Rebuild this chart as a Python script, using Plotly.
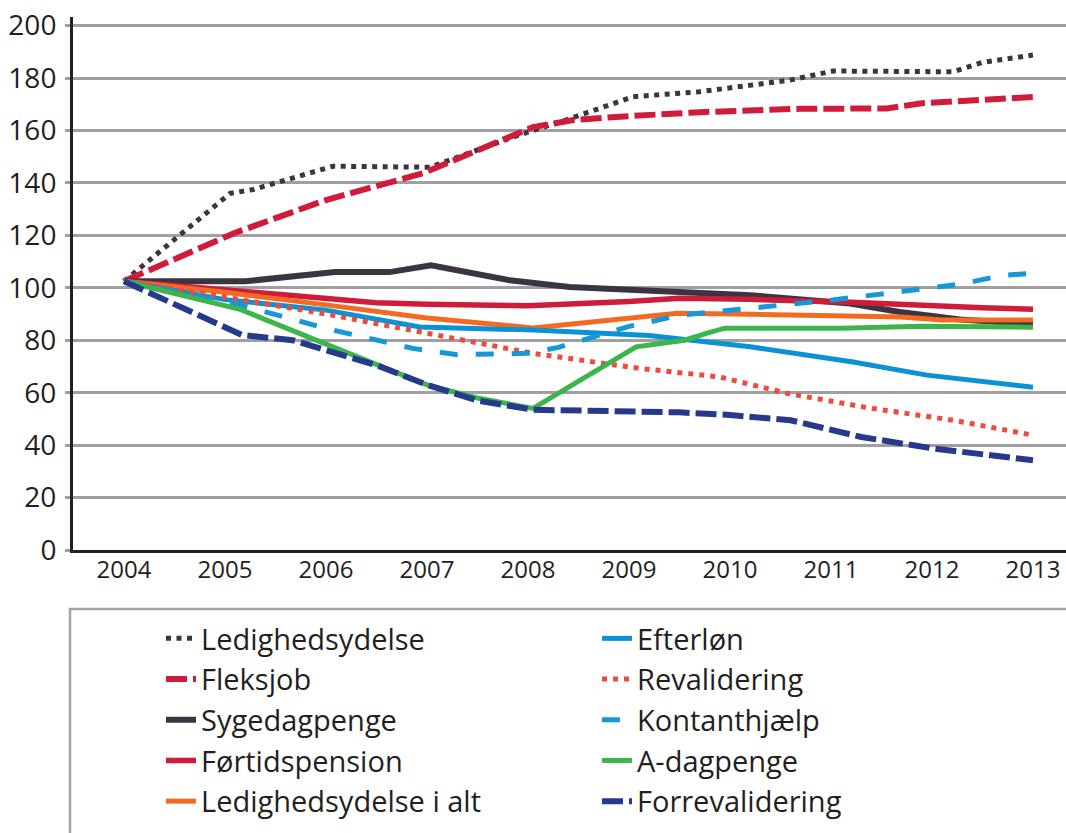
import plotly.graph_objects as go

# ---- data (fractional years, index values) ----
ledighedsydelse_x = [2004.0, 2005.05, 2005.28, 2006.07, 2007.03, 2007.85, 2008.45, 2009.04, 2009.7, 2010.59, 2011.02, 2012.21, 2012.5, 2013.0]
ledighedsydelse_y = [102.5, 136.0, 137.5, 146.4, 146.0, 157.5, 165.0, 172.9, 174.8, 179.2, 182.7, 182.4, 186.0, 188.8]

fleksjob_x = [2004.0, 2005.1, 2006.0, 2006.96, 2008.05, 2008.45, 2009.0, 2009.7, 2010.7, 2011.55, 2011.9, 2013.0]
fleksjob_y = [102.5, 121.0, 133.5, 143.7, 161.3, 164.0, 165.5, 167.0, 168.3, 168.4, 170.4, 172.8]

sygedagpenge_x = [2004.0, 2005.2, 2006.09, 2006.63, 2007.04, 2007.82, 2008.41, 2009.24, 2010.2, 2011.19, 2011.68, 2012.28, 2013.0]
sygedagpenge_y = [102.5, 102.5, 106.0, 106.0, 108.6, 102.9, 100.3, 98.7, 97.2, 94.0, 90.8, 87.9, 86.1]

fortidspension_x = [2004.0, 2005.0, 2006.0, 2006.5, 2007.0, 2008.0, 2009.0, 2009.5, 2010.2, 2011.2, 2012.5, 2013.0]
fortidspension_y = [102.5, 99.3, 96.0, 94.3, 93.7, 93.2, 94.8, 96.0, 95.6, 94.5, 92.4, 91.8]

ledighed_ialt_x = [2004.0, 2005.0, 2006.0, 2007.0, 2008.05, 2009.0, 2009.48, 2010.2, 2011.7, 2012.1, 2013.0]
ledighed_ialt_y = [102.5, 98.3, 93.5, 88.5, 84.7, 88.2, 90.3, 89.9, 88.9, 87.7, 87.7]

efterlon_x = [2004.0, 2005.0, 2006.0, 2006.93, 2008.05, 2009.2, 2010.2, 2010.79, 2011.22, 2011.95, 2012.77, 2013.0]
efterlon_y = [102.5, 95.5, 91.5, 85.1, 83.9, 81.8, 77.5, 74.3, 71.7, 66.7, 62.9, 62.1]

revalidering_x = [2004.0, 2005.0, 2006.0, 2006.93, 2008.05, 2009.1, 2009.9, 2010.56, 2011.39, 2012.21, 2013.0]
revalidering_y = [102.5, 96.5, 90.0, 83.2, 75.0, 69.3, 66.0, 59.8, 54.1, 49.5, 43.8]

kontanthjaelp_x = [2004.0, 2005.1, 2006.0, 2006.86, 2007.3, 2008.0, 2008.3, 2009.0, 2009.5, 2010.2, 2011.0, 2011.95, 2012.3, 2012.7, 2013.0]
kontanthjaelp_y = [102.5, 94.0, 84.5, 76.9, 74.5, 75.0, 77.3, 85.3, 89.5, 92.0, 95.3, 99.8, 101.5, 104.8, 105.5]

adagpenge_x = [2004.0, 2005.15, 2006.0, 2007.0, 2007.5, 2008.05, 2009.07, 2009.55, 2009.8, 2009.95, 2011.1, 2011.9, 2013.0]
adagpenge_y = [102.5, 91.8, 78.5, 63.0, 58.0, 54.0, 77.5, 80.0, 83.0, 84.6, 84.6, 85.3, 85.0]

forrevalidering_x = [2004.0, 2005.17, 2005.67, 2006.5, 2007.0, 2007.5, 2008.05, 2009.5, 2010.0, 2010.6, 2011.3, 2012.0, 2013.0]
forrevalidering_y = [102.5, 82.0, 80.0, 70.5, 63.0, 57.0, 53.5, 52.5, 51.5, 49.5, 43.1, 38.8, 34.2]

year_ticks = [2004, 2005, 2006, 2007, 2008, 2009, 2010, 2011, 2012, 2013]
y_ticks = [0, 20, 40, 60, 80, 100, 120, 140, 160, 180, 200]

DARK = "#3b3441"
CRIMSON = "#cf1c3a"
ORANGE = "#f36b21"
BLUE = "#0b92d5"
LBLUE = "#1698d8"
REDDOT = "#ef4b3d"
GREEN = "#3cb54a"
NAVY = "#27398d"

series = [
    ("Ledighedsydelse", ledighedsydelse_x, ledighedsydelse_y, DARK, 5, "5px,5.5px", "legend"),
    ("Fleksjob", fleksjob_x, fleksjob_y, CRIMSON, 6, "21px,6px", "legend"),
    ("Sygedagpenge", sygedagpenge_x, sygedagpenge_y, DARK, 6, "solid", "legend"),
    ("Førtidspension", fortidspension_x, fortidspension_y, CRIMSON, 5.5, "solid", "legend"),
    ("Ledighedsydelse i alt", ledighed_ialt_x, ledighed_ialt_y, ORANGE, 5, "solid", "legend"),
    ("Efterløn", efterlon_x, efterlon_y, BLUE, 5, "solid", "legend2"),
    ("Revalidering", revalidering_x, revalidering_y, REDDOT, 5, "5px,6px", "legend2"),
    ("Kontanthjælp", kontanthjaelp_x, kontanthjaelp_y, LBLUE, 5, "18px,18px", "legend2"),
    ("A-dagpenge", adagpenge_x, adagpenge_y, GREEN, 5, "solid", "legend2"),
    ("Forrevalidering", forrevalidering_x, forrevalidering_y, NAVY, 6, "21px,6px", "legend2"),
]

fig = go.Figure()
for name, xs, ys, color, width, dash, leg in series:
    fig.add_trace(go.Scatter(
        x=xs, y=ys, mode="lines", name=name,
        line=dict(color=color, width=width, dash=dash),
        legend=leg,
    ))

FONT = "Open Sans"
W, H = 1066, 833
plot_top, plot_bottom, plot_left = 17, 550, 73
ph = plot_bottom - plot_top
pw = W - plot_left

def py(pix):  # pix in reference-image coordinates
    return 1 - (pix - plot_top) / ph

def px(pix):
    return (pix - plot_left) / pw

legend_common = dict(
    font=dict(family=FONT, size=29, color="#231f20"),
    bgcolor="rgba(0,0,0,0)", borderwidth=0,
    orientation="v", xanchor="left", yanchor="top",
    traceorder="normal",
)

fig.update_layout(
    width=W, height=H,
    margin=dict(l=plot_left, r=0, t=plot_top, b=H - plot_bottom, autoexpand=False),
    paper_bgcolor="white", plot_bgcolor="white",
    font=dict(family=FONT, color="#231f20"),
    showlegend=True,
    legend=dict(x=px(161), y=py(613), **legend_common),
    legend2=dict(x=px(597), y=py(613), **legend_common),
    shapes=[dict(
        type="rect", xref="paper", yref="paper",
        x0=px(70), x1=px(1080), y0=py(609), y1=py(850),
        line=dict(color="#a3a3a3", width=2.5), fillcolor="rgba(0,0,0,0)",
        layer="below",
    )],
)

fig.update_xaxes(
    range=[2003.495, 2013.327], tickvals=year_ticks, ticktext=[str(v) for v in year_ticks],
    showgrid=False, zeroline=False, showline=True, linecolor="#231f20", linewidth=3,
    ticks="", ticklabelstandoff=-4, ticklabeloverflow="allow",
    tickfont=dict(family=FONT, size=24, color="#231f20"),
)
fig.update_yaxes(
    range=[0, 203.3], tickvals=y_ticks,
    showgrid=True, gridcolor="#a0a0a0", gridwidth=2.5,
    zeroline=False, showline=True, linecolor="#231f20", linewidth=3,
    ticks="outside", ticklen=5, tickcolor="#a0a0a0", tickwidth=2.5,
    ticklabelstandoff=3, ticklabeloverflow="allow",
    tickfont=dict(family=FONT, size=28, color="#231f20"),
)

fig.write_html(
    "out.html",
    config={"displayModeBar": False},
    post_script="document.body.style.margin='0';",
)
